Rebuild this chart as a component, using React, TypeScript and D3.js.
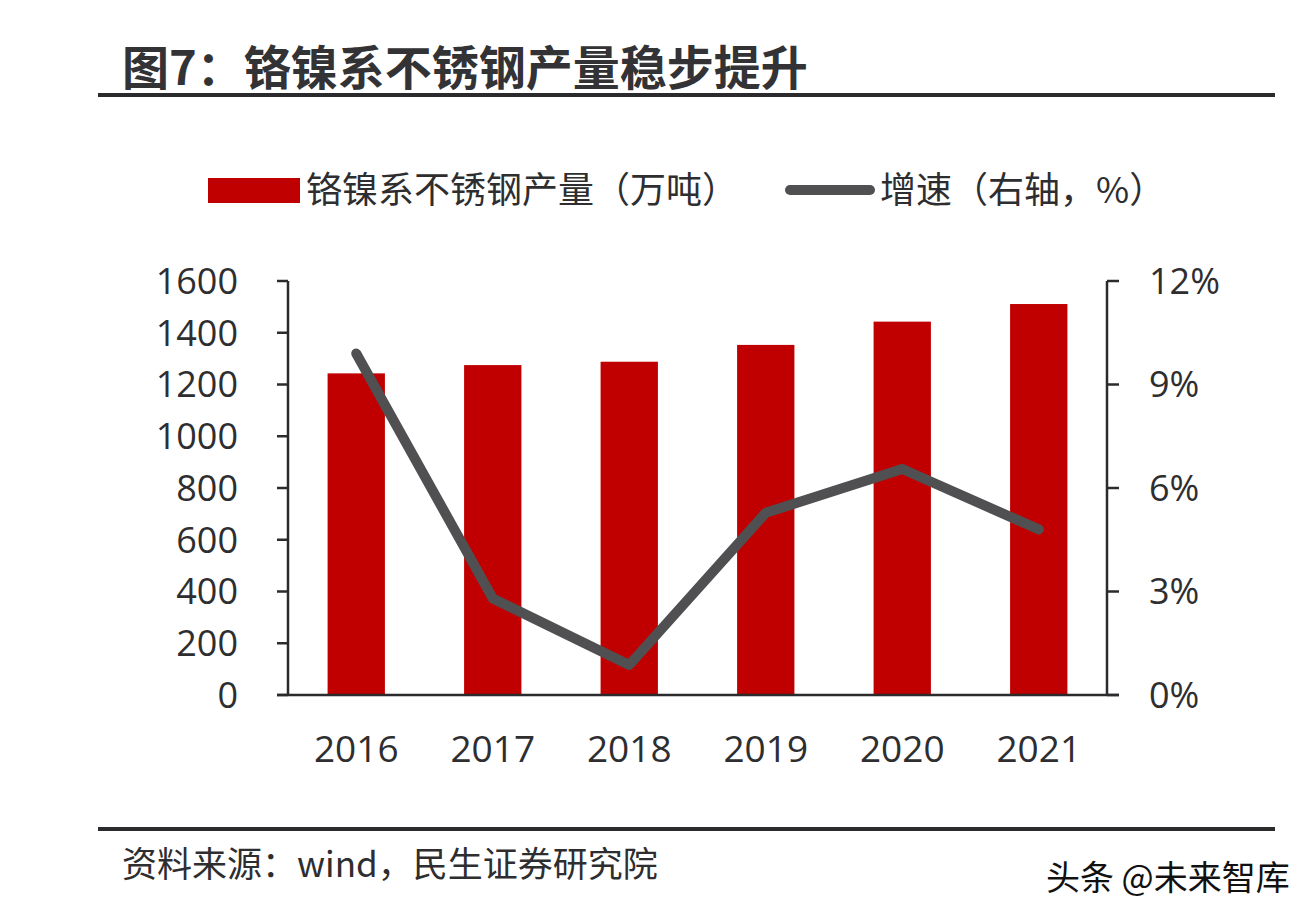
import React from "react";
import * as d3 from "d3";

const years = ["2016", "2017", "2018", "2019", "2020", "2021"];
const output = [1243, 1275, 1288, 1353, 1443, 1511];
const growth = [9.9, 2.8, 0.87, 5.28, 6.55, 4.8];
const leftTicks = [0, 200, 400, 600, 800, 1000, 1200, 1400, 1600];
const rightTicks = [0, 3, 6, 9, 12];

const title = "图7：铬镍系不锈钢产量稳步提升";
const barLegend = "铬镍系不锈钢产量（万吨）";
const lineLegend = "增速（右轴，%）";
const source = "资料来源：wind，民生证券研究院";
const watermark = "头条 @未来智库";

const W = 1314;
const H = 920;
const plot = { left: 288, right: 1107, top: 281, bottom: 695 };
const RED = "#c00000";
const LINE = "#505052";
const TEXT = "#2e2e30";
const FONT = "'Open Sans', 'Noto Sans CJK SC', sans-serif";
const CJK = "'Noto Sans CJK SC', sans-serif";

export default function App() {
  const x = d3.scaleBand().domain(years).range([plot.left, plot.right]).paddingInner(0.58).paddingOuter(0.29);
  const yL = d3.scaleLinear().domain([0, 1600]).range([plot.bottom, plot.top]);
  const yR = d3.scaleLinear().domain([0, 12]).range([plot.bottom, plot.top]);
  const cx = (d: string) => (x(d) as number) + x.bandwidth() / 2;
  const line = d3
    .line<number>()
    .x((_, i) => cx(years[i]))
    .y((d) => yR(d));

  return (
    <svg width={W} height={H} style={{ position: "absolute", left: 0, top: 0, background: "#fff" }}>
      <rect x={0} y={0} width={W} height={H} fill="#fff" />
      <text x={122} y={85} fontFamily={CJK} fontWeight={700} fontSize={47} fill="#333335">
        {title}
      </text>
      <rect x={98} y={93} width={1177} height={4} fill="#2b2b2d" />

      {/* legend */}
      <rect x={208} y={178} width={92} height={25} fill={RED} />
      <text x={306} y={203} fontFamily={CJK} fontSize={36} fill={TEXT}>
        {barLegend}
      </text>
      <line x1={790} x2={870} y1={190} y2={190} stroke={LINE} strokeWidth={10} strokeLinecap="round" />
      <text x={880} y={203} fontFamily={CJK} fontSize={36} fill={TEXT}>
        {lineLegend}
      </text>

      {/* bars */}
      {years.map((yr, i) => (
        <rect
          key={yr}
          x={x(yr)}
          y={yL(output[i])}
          width={x.bandwidth()}
          height={plot.bottom - yL(output[i])}
          fill={RED}
        />
      ))}

      {/* axes */}
      <line x1={plot.left} x2={plot.left} y1={plot.top} y2={plot.bottom} stroke="#2b2b2d" strokeWidth={2.5} />
      <line x1={plot.right} x2={plot.right} y1={plot.top} y2={plot.bottom} stroke="#2b2b2d" strokeWidth={2.5} />
      <line x1={plot.left - 11} x2={plot.right + 12} y1={plot.bottom} y2={plot.bottom} stroke="#2b2b2d" strokeWidth={2.5} />
      {leftTicks.map((t) => (
        <g key={"l" + t}>
          <line x1={plot.left - 11} x2={plot.left} y1={yL(t)} y2={yL(t)} stroke="#2b2b2d" strokeWidth={2.5} />
          <text x={plot.left - 50} y={yL(t)} dy="0.36em" textAnchor="end" fontFamily={FONT} fontSize={36} fill={TEXT}>
            {t}
          </text>
        </g>
      ))}
      {rightTicks.map((t) => (
        <g key={"r" + t}>
          <line x1={plot.right} x2={plot.right + 12} y1={yR(t)} y2={yR(t)} stroke="#2b2b2d" strokeWidth={2.5} />
          <text x={plot.right + 42} y={yR(t)} dy="0.36em" textAnchor="start" fontFamily={FONT} fontSize={36} fill={TEXT}>
            {t + "%"}
          </text>
        </g>
      ))}
      {years.map((yr) => (
        <text key={"x" + yr} x={cx(yr)} y={762} textAnchor="middle" fontFamily={FONT} fontSize={37} fill={TEXT}>
          {yr}
        </text>
      ))}

      {/* line */}
      <path d={line(growth) as string} fill="none" stroke={LINE} strokeWidth={10} strokeLinejoin="round" strokeLinecap="round" />

      {/* footer */}
      <rect x={98} y={827} width={1177} height={4} fill="#2b2b2d" />
      <text x={122} y={877} fontFamily={CJK} fontSize={35} fill={TEXT}>
        {source}
      </text>
      <text x={1046} y={890} fontFamily={CJK} fontSize={34} fill="#111">
        {watermark}
      </text>
    </svg>
  );
}
